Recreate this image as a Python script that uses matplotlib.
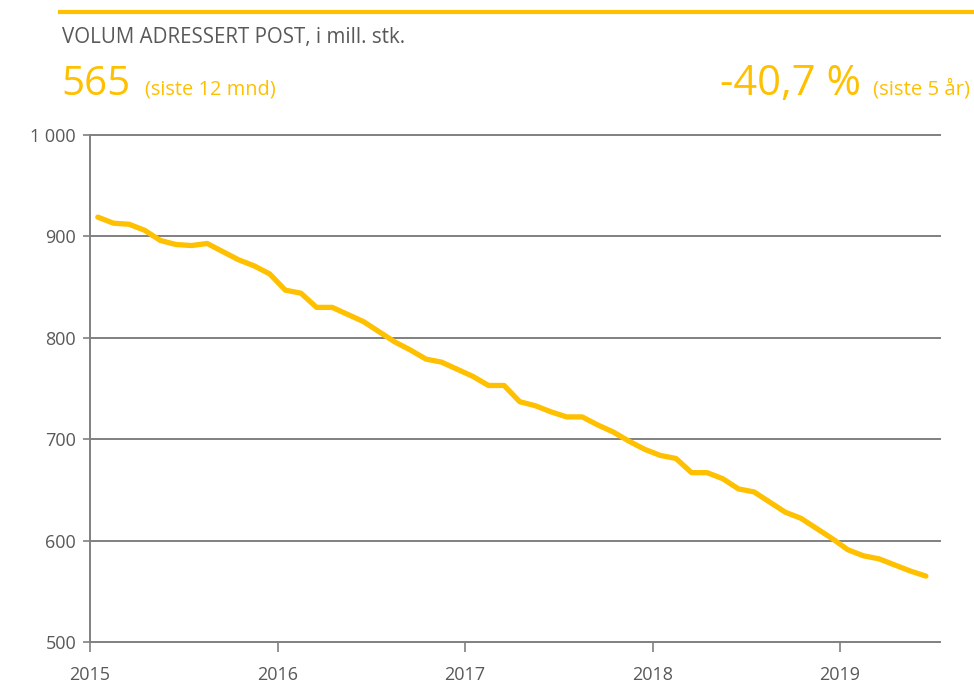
import matplotlib
matplotlib.use("Agg")
import matplotlib.pyplot as plt

# ---- data ----
values = [919, 913, 912, 906, 896, 892, 891, 893, 885, 877, 871, 863,
          847, 844, 830, 830, 823, 816, 806, 796, 788, 779, 776, 769,
          762, 753, 753, 737, 733, 727, 722, 722, 714, 707, 698, 690,
          684, 681, 667, 667, 661, 651, 648, 638, 628, 622, 612, 602,
          591, 585, 582, 576, 570, 565]
year_labels = ["2015", "2016", "2017", "2018", "2019"]
y_ticks = [500, 600, 700, 800, 900, 1000]
y_tick_labels = ["500", "600", "700", "800", "900", "1 000"]
title = "VOLUM ADRESSERT POST, i mill. stk."
kpi_value = "565"
kpi_value_note = "(siste 12 mnd)"
kpi_change = "-40,7 %"
kpi_change_note = "(siste 5 år)"

plt.rcParams["font.family"] = ["Open Sans", "DejaVu Sans"]

GOLD = "#FFC000"
GRAY = "#808080"
TXT = "#595959"

W, H = 974, 683
fig = plt.figure(figsize=(W / 100, H / 100), dpi=100)

def fx(x):
    return x / W

def fy(y):
    return 1 - y / H

ax = fig.add_axes([fx(90), fy(642), fx(940) - fx(90), fy(135) - fy(642)])
xs = [i + 0.5 for i in range(len(values))]
ax.plot(xs, values, color=GOLD, lw=3.8, solid_joinstyle="round", solid_capstyle="round", zorder=3)
ax.set_xlim(0, 54.4)
ax.set_ylim(500, 1000)
ax.set_yticks(y_ticks)
ax.set_yticklabels(y_tick_labels)
ax.set_xticks([12 * i for i in range(len(year_labels))])
ax.set_xticklabels(year_labels)
for v in y_ticks[1:]:
    ax.axhline(v, color=GRAY, lw=1.4, zorder=1, clip_on=False)
for s in ["top", "right"]:
    ax.spines[s].set_visible(False)
for s in ["left", "bottom"]:
    ax.spines[s].set_color(GRAY)
    ax.spines[s].set_linewidth(1.4)
ax.tick_params(axis="both", colors=GRAY, labelcolor=TXT, labelsize=13, width=1.2)
ax.tick_params(axis="y", length=5, pad=5)
ax.tick_params(axis="x", length=7, pad=10)

# header
fig.add_artist(plt.Line2D([fx(60), 1.0], [fy(12), fy(12)], color=GOLD, lw=3))
fig.text(fx(62), fy(37), title, color=TXT, fontsize=14.8, va="center", ha="left")
fig.text(fx(61), fy(95), kpi_value, color=GOLD, fontsize=29, va="baseline", ha="left")
fig.text(fx(145), fy(95), kpi_value_note, color=GOLD, fontsize=14.4, va="baseline", ha="left")
fig.text(fx(861), fy(95), kpi_change, color=GOLD, fontsize=30, va="baseline", ha="right")
fig.text(fx(970), fy(95), kpi_change_note, color=GOLD, fontsize=14.7, va="baseline", ha="right")

fig.savefig("out.png", dpi=100)
